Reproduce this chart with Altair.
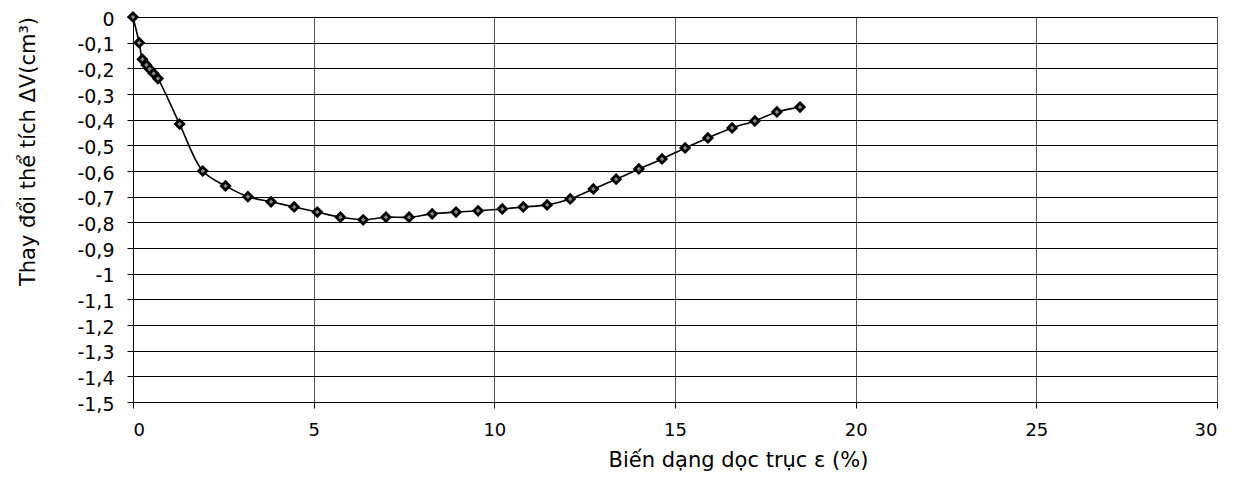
import altair as alt
import pandas as pd

strain = [0, 0.17, 0.26, 0.37, 0.46, 0.57, 0.69, 1.29, 1.93, 2.56, 3.18, 3.82,
          4.46, 5.10, 5.74, 6.37, 7.00, 7.64, 8.28, 8.94, 9.55, 10.22, 10.80,
          11.46, 12.10, 12.74, 13.37, 14.00, 14.64, 15.28, 15.91, 16.58, 17.21,
          17.82, 18.46]
dvol = [0, -0.10, -0.165, -0.187, -0.203, -0.22, -0.24, -0.417, -0.60, -0.658,
        -0.70, -0.72, -0.74, -0.76, -0.78, -0.79, -0.78, -0.78, -0.767, -0.76,
        -0.755, -0.748, -0.74, -0.732, -0.709, -0.67, -0.632, -0.592, -0.553,
        -0.51, -0.471, -0.432, -0.405, -0.37, -0.351]
x_ticks = [0, 5, 10, 15, 20, 25, 30]
y_ticks = [round(-0.1 * i, 1) for i in range(16)]

df = pd.DataFrame({"x": strain, "y": dvol, "i": list(range(len(strain)))})

FONT = "DejaVu Sans"

xs = alt.X("x:Q", scale=alt.Scale(domain=[0, 30], nice=False),
           axis=alt.Axis(values=x_ticks, title="Biến dạng dọc trục ε (%)",
                         labelFontSize=18, labelPadding=13, tickSize=6,
                         titleFontSize=21, titleFontWeight="normal",
                         titleX=605, titleY=64, titleBaseline="alphabetic",
                         gridColor="#555555", gridOpacity=1, gridWidth=1,
                         domainColor="black", tickColor="black",
                         labelColor="black", titleColor="black",
                         labelFont=FONT, titleFont=FONT))
ys = alt.Y("y:Q", scale=alt.Scale(domain=[-1.5, 0], nice=False),
           axis=alt.Axis(values=y_ticks, title="Thay đổi thể tích ΔV(cm³)",
                         labelExpr="replace(replace(format(datum.value, '.1~f'), '\u2212', '-'), '.', ',')",
                         labelFontSize=19, labelPadding=13, tickSize=6,
                         labelOffset=2,
                         titleFontSize=21, titleFontWeight="normal",
                         titleX=-99, titleY=134, titleBaseline="alphabetic",
                         gridColor="black", gridOpacity=1, gridWidth=1,
                         domainColor="black", tickColor="black",
                         labelColor="black", titleColor="black",
                         labelFont=FONT, titleFont=FONT))

line = alt.Chart(df).mark_line(color="black", strokeWidth=1.6,
                               interpolate="catmull-rom").encode(
    x=xs, y=ys, order="i:Q")
pts = alt.Chart(df).mark_point(shape="diamond", filled=True, size=150,
                               color="black", opacity=1).encode(x=xs, y=ys)
inner = alt.Chart(df).mark_point(shape="diamond", filled=True, size=20,
                                 color="#888888", opacity=1).encode(x=xs, y=ys)

chart = (line + pts + inner).properties(
    width=1084, height=385,
    autosize=alt.AutoSizeParams(type="none"),
    padding={"left": 125, "top": 9, "right": 10, "bottom": 78},
).configure_view(stroke="black", strokeWidth=1).configure(background="white")

chart.save("out.html", embed_options={"renderer": "svg", "actions": False})
